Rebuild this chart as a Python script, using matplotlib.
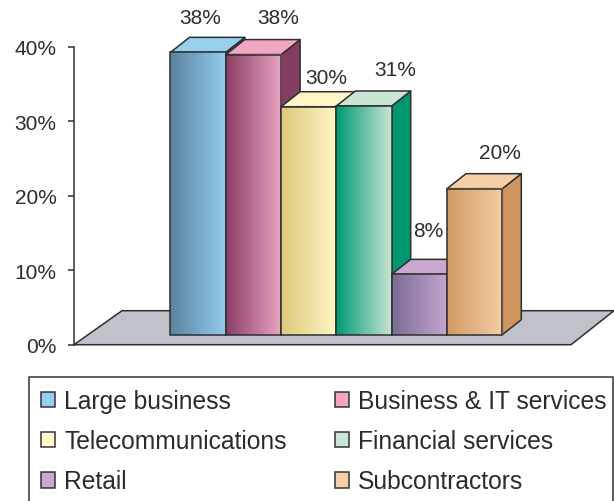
import numpy as np
import matplotlib
matplotlib.use('Agg')
import matplotlib.pyplot as plt
from matplotlib.colors import to_rgb
from matplotlib.patches import Patch, Polygon, Rectangle

plt.rcParams['font.family'] = ['Liberation Sans', 'DejaVu Sans']

categories = ['Large business', 'Business & IT services', 'Telecommunications',
              'Financial services', 'Retail', 'Subcontractors']
# bar heights as drawn, they differ a bit from the printed labels
heights = [37.9, 37.6, 30.6, 30.7, 8.1, 19.6]
value_labels = ['38%', '38%', '30%', '31%', '8%', '20%']
y_ticks = [0, 10, 20, 30, 40]
y_tick_labels = ['0%', '10%', '20%', '30%', '40%']

# colours: front gradient start / end, top face, side face
front_dark = ['#5a84a1', '#8b3f66', '#dfca7c', '#009a74', '#7a6c95', '#d19a63']
front_light = ['#94cbec', '#eba4c2', '#fef5c3', '#c8e4d2', '#c6a6cf', '#f5cda6']
top_colors = ['#97d0ef', '#f2a6c4', '#fff6c8', '#cae5d3', '#c9a8cf', '#f5cfa8']
side_colors = ['#3f6f90', '#843d60', '#cdb96c', '#00966f', '#6d5f88', '#d09660']
# where each value label sits relative to the bar top centre, in pixels
label_offsets = [(2, 35), (25, 37), (18, 29), (31, 36), (9, 44), (25, 36)]

W, H = 614, 502
PX_X = 55.3    # pixels per bar
PX_Y = 7.45    # pixels per percent
X0 = 198.15    # pixel x of first bar centre
Y0 = 345.7     # pixel y of 0%
LINE = '#2e2e2e'
TEXT = '#2b2b2b'


def fx(px):
    return (px - X0) / PX_X


def fy(px):
    return (Y0 - px) / PX_Y


fig = plt.figure(figsize=(W / 100, H / 100), dpi=100)
ax = fig.add_axes([0, 0, 1, 1])
ax.patch.set_visible(False)

dx = 19 / PX_X
dy = 15 / PX_Y
base = fy(335.7)

floor = [(fx(74), 0), (fx(122), fy(311.7)), (fx(614), fy(311.7)), (fx(571), 0)]
ax.add_patch(Polygon(floor, closed=True, facecolor='#bfc3c9', edgecolor=LINE,
                     lw=1.1, zorder=1))

z = 2
for i, h in enumerate(heights):
    l, r = i - 0.5, i + 0.5
    top = base + h
    ax.add_patch(Polygon([(r, base), (r + dx, base + dy), (r + dx, top + dy), (r, top)],
                         closed=True, facecolor=side_colors[i], edgecolor=LINE,
                         lw=1.1, joinstyle='round', zorder=z))
    ax.add_patch(Polygon([(l, top), (l + dx, top + dy), (r + dx, top + dy), (r, top)],
                         closed=True, facecolor=top_colors[i], edgecolor=LINE,
                         lw=1.1, joinstyle='round', zorder=z + 1))
    t = np.linspace(0, 1, 56)[None, :, None]
    grad = np.array(to_rgb(front_dark[i]))[None, None, :] * (1 - t) \
        + np.array(to_rgb(front_light[i]))[None, None, :] * t
    ax.imshow(grad, extent=(l, r, base, top), aspect='auto', zorder=z + 2,
              interpolation='bilinear')
    ax.add_patch(Rectangle((l, base), 1, h, facecolor='none', edgecolor=LINE,
                           lw=1.1, zorder=z + 3))
    ax.annotate(value_labels[i], (i, top), xytext=label_offsets[i],
                textcoords='offset pixels', ha='center', va='center',
                fontsize=15, color=TEXT, zorder=50)
    z += 4

ax.set_xlim(fx(0), fx(W))
ax.set_ylim(fy(H), fy(0))

ax.spines['top'].set_visible(False)
ax.spines['right'].set_visible(False)
ax.spines['bottom'].set_visible(False)
ax.spines['left'].set_position(('data', fx(74)))
ax.spines['left'].set_bounds(0, 40)
ax.spines['left'].set_linewidth(1.1)
ax.spines['left'].set_color(LINE)
ax.set_xticks([])
ax.set_yticks(y_ticks)
ax.set_yticklabels(y_tick_labels)
ax.tick_params(axis='y', length=4.5, width=1.1, color=LINE, pad=8,
               labelsize=15, labelcolor=TEXT)

# legend box runs off the bottom of the picture
fig.add_artist(Rectangle((29 / W, -0.02), (613 - 29) / W, 1.02 - 378 / H,
                         transform=fig.transFigure, facecolor='none',
                         edgecolor='#333333', lw=1.1))

order = [0, 2, 4, 1, 3, 5]
handles = [Patch(facecolor=top_colors[i], edgecolor='#333333', lw=1.1) for i in order]
labels = [categories[i] for i in order]
leg = fig.legend(handles, labels, ncol=2, loc='upper left',
                 bbox_to_anchor=(41 / W, 1 - 390 / H), borderaxespad=0,
                 fontsize=17.7, frameon=False, labelcolor=TEXT,
                 handlelength=0.58, handleheight=0.6, handletextpad=0.37,
                 borderpad=0, labelspacing=0.66, columnspacing=1.94)

fig.savefig('out.png', dpi=100)
